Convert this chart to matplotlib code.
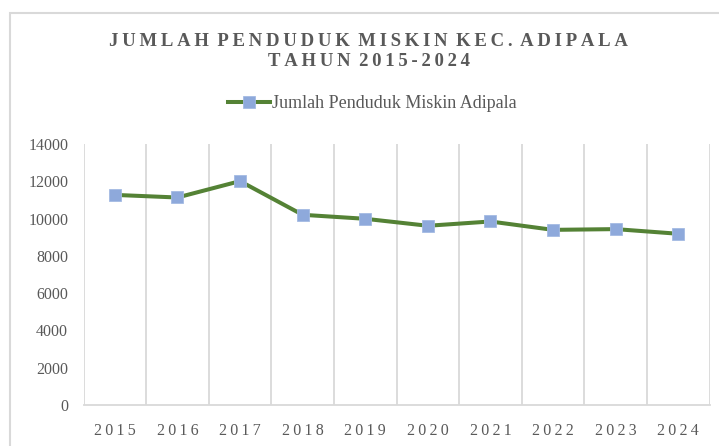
import matplotlib
matplotlib.use("Agg")
import matplotlib.pyplot as plt
from matplotlib.patches import Rectangle

# Data
years = ["2015", "2016", "2017", "2018", "2019", "2020", "2021", "2022", "2023", "2024"]
penduduk_miskin = [11280, 11140, 12020, 10210, 9995, 9620, 9850, 9400, 9440, 9190]
y_ticks = [0, 2000, 4000, 6000, 8000, 10000, 12000, 14000]

title_line1 = "JUMLAH PENDUDUK MISKIN KEC. ADIPALA"
title_line2 = "TAHUN 2015-2024"
series_label = "Jumlah Penduduk Miskin Adipala"

LINE_COLOR = "#548235"
MARKER_COLOR = "#8EA9DB"
TEXT_COLOR = "#595959"
GRID_COLOR = "#D9D9D9"


def spaced(text):
    """ Imitates the letter spacing of the original: thin spaces inside each word """
    return "\u2009 ".join("\u2009".join(word) for word in text.split(" "))


plt.rcParams["font.family"] = ["Liberation Serif", "DejaVu Serif"]

fig = plt.figure(figsize=(7.19, 4.46), dpi=100)
W, H = 719, 446

# Chart frame (cut off on the right and bottom like the screenshot)
fig.patches.append(Rectangle((10 / W, -0.1), 1.0, 1.1 - 12.7 / H, transform=fig.transFigure,
                             fill=False, edgecolor=GRID_COLOR, linewidth=1.5))

ax = fig.add_axes([83.5 / W, 1 - 404.7 / H, (709.5 - 83.5) / W, (404.7 - 144.3) / H])

x = list(range(len(years)))
line, = ax.plot(x, penduduk_miskin, color=LINE_COLOR, linewidth=2.9, marker="s",
                markersize=8, markerfacecolor=MARKER_COLOR, markeredgecolor="#A4BBE3",
                markeredgewidth=0.6, label=series_label, zorder=3)

ax.set_xlim(-0.5, len(years) - 0.5)
ax.set_ylim(0, 14000)
ax.set_yticks(y_ticks)
ax.set_yticklabels([str(v) for v in y_ticks])
ax.set_xticks(x)
ax.set_xticklabels([spaced(y) for y in years])

# Vertical gridlines sit between the categories
ax.set_xticks([i - 0.5 for i in range(len(years) + 1)], minor=True)
ax.grid(axis="x", which="minor", color=GRID_COLOR, linewidth=1.3)
ax.grid(axis="x", which="major", visible=False)
ax.tick_params(axis="x", which="both", length=0)
ax.tick_params(axis="x", which="major", labelsize=11.5, labelcolor=TEXT_COLOR, pad=13)
ax.tick_params(axis="y", length=0, labelsize=11.5, labelcolor=TEXT_COLOR, pad=11)

for side in ["top", "right", "left"]:
    ax.spines[side].set_visible(False)
ax.spines["bottom"].set_color(GRID_COLOR)
ax.spines["bottom"].set_linewidth(1.3)

fig.text(368.5 / W, 1 - 46 / H, spaced(title_line1), ha="center", va="baseline",
         fontsize=13.5, fontweight="bold", color=TEXT_COLOR)
fig.text(368.5 / W, 1 - 66.5 / H, spaced(title_line2), ha="center", va="baseline",
         fontsize=13.5, fontweight="bold", color=TEXT_COLOR)

leg = fig.legend(handles=[line], loc="center", bbox_to_anchor=(372.5 / W, 1 - 104 / H),
                 frameon=False, fontsize=13, handlelength=2.3, handletextpad=0.15,
                 labelcolor=TEXT_COLOR)

fig.savefig("out.png", dpi=100)
